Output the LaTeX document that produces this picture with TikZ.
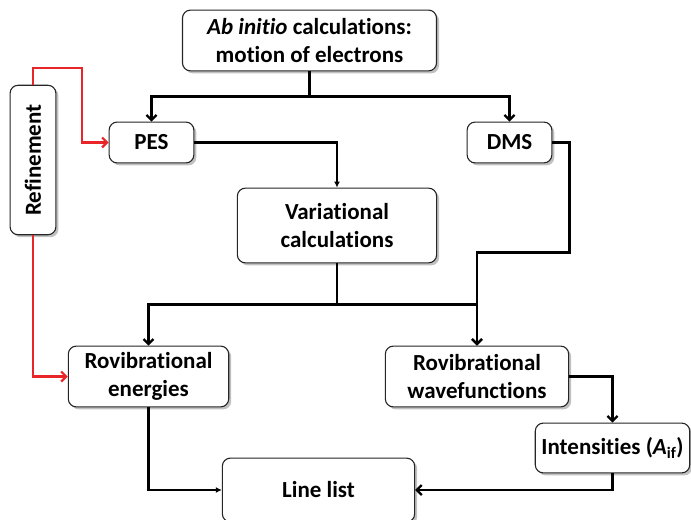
\documentclass[tikz,border=0pt]{standalone}
\usepackage{fontspec}
\setmainfont[Ligatures={NoCommon}]{Carlito}
\usetikzlibrary{arrows.meta,shadows}

\definecolor{refred}{RGB}{232,38,42}

\tikzset{
  box/.style={draw=black!85, line width=1.1bp, rounded corners=8bp, fill=white,
    align=center, inner sep=0pt,
    font=\fontsize{23bp}{28bp}\selectfont\bfseries,
    drop shadow={shadow xshift=2.5bp, shadow yshift=-2.5bp, opacity=0.35, fill=black!70}},
  link/.style={line width=2.2bp, -{Straight Barb[length=5bp,width=10bp]}},
  smalllink/.style={line width=2.2bp, -{Latex[length=6bp,width=6bp]}},
  redlink/.style={link, draw=refred}
}

\begin{document}
\begin{tikzpicture}[x=1bp, y=-1bp]
\useasboundingbox (0,0) rectangle (691,520);

% boxes
\node[box, minimum width=255, minimum height=61] (abinit)   at (309.5,40.5) {\textit{Ab initio} calculations:\\motion of electrons};
\node[box, minimum width=85,  minimum height=41] (pes)      at (151.5,142.5) {PES};
\node[box, minimum width=85,  minimum height=41] (dms)      at (509.5,142.5) {DMS};
\node[box, minimum width=150, minimum height=46, rotate=90] (refine) at (33,160) {Refinement};
\node[box, minimum width=200, minimum height=75] (var)      at (337,225.5) {Variational\\calculations};
\node[box, minimum width=161, minimum height=61] (energ)    at (148.5,376.5) {Rovibrational\\energies};
\node[box, minimum width=184, minimum height=61] (wavef)    at (477,376.5) {Rovibrational\\wavefunctions};
\node[box, minimum width=155, minimum height=50] (intens)   at (612.5,448) {Intensities (\textit{A}\textsubscript{if})};
\node[box, minimum width=193, minimum height=64] (linelist) at (318.5,490) {Line list};

% connectors
\draw[link] (abinit.south) -- ++(0,25) -| (pes.north);
\draw[link] (abinit.south) -- ++(0,25) -| (dms.north);
\draw[smalllink] (pes.east) -| (var.north);
\draw[link] (var.south) -- ++(0,41) -| (energ.north);
\draw[link] (var.south) -- ++(0,41) -| (wavef.north);
\draw[link] (dms.east) -- ++(17,0) -- ++(0,110) -| (wavef.north);
\draw[link] (wavef.east) -| (intens.north);
\draw[link] (intens.south) |- (linelist.east);
\draw[smalllink] (energ.south) |- (linelist.west);

% refinement loop
\draw[redlink] (refine.east) -- ++(0,-17) -- ++(49,0) |- (pes.west);
\draw[redlink] (refine.west) |- (energ.west);
\end{tikzpicture}
\end{document}
